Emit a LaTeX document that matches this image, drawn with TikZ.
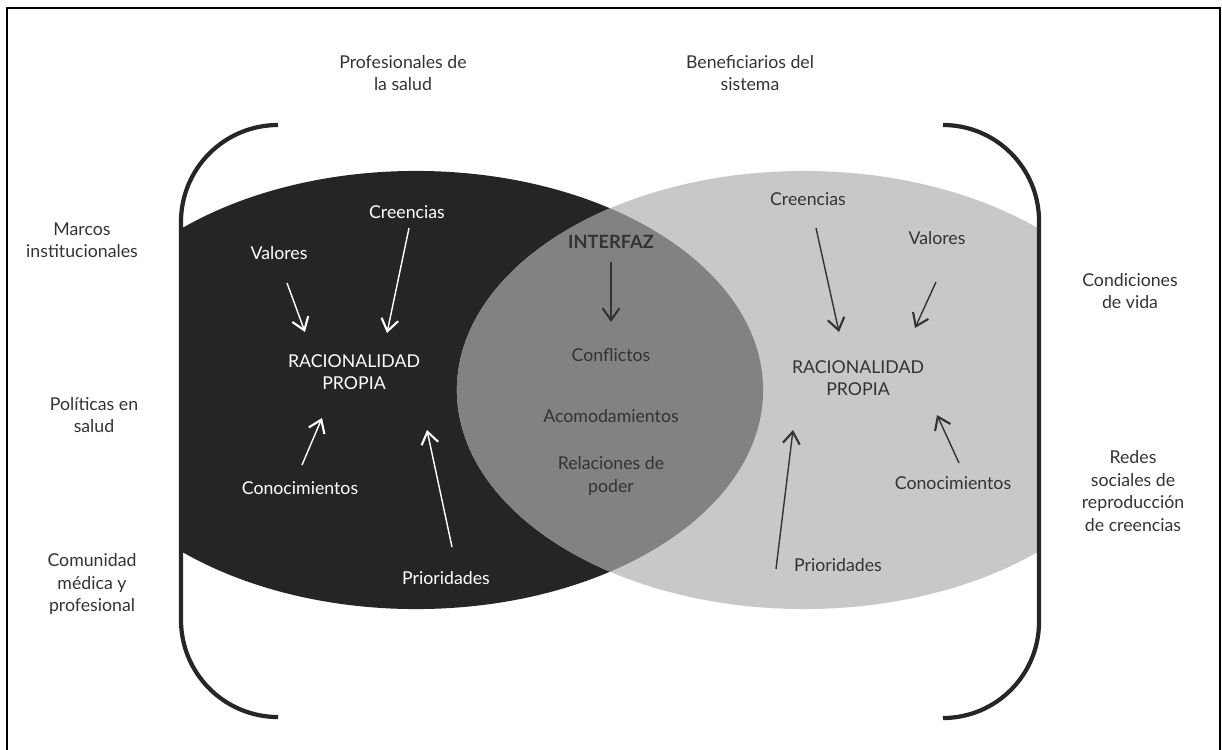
\documentclass[tikz,border=0pt]{standalone}
\usepackage{fontspec}
\setmainfont{Lato}
\usetikzlibrary{arrows.meta}
\definecolor{darkfill}{HTML}{252525}
\definecolor{lightfill}{HTML}{C8C8C8}
\definecolor{lensfill}{HTML}{828282}
\definecolor{txt}{HTML}{333333}
\definecolor{brk}{HTML}{262626}
\begin{document}
\begin{tikzpicture}[x=0.025cm,y=-0.025cm,
  lbl/.style={font=\fontsize{12.6}{16}\selectfont, align=center, text=txt, inner sep=0pt},
  wlbl/.style={lbl, text=white},
  arr/.style={line width=1pt, draw=txt, -{Straight Barb[length=8.5pt,width=12pt,line width=1.5pt]}},
  warr/.style={arr, draw=white},
  bracket/.style={line width=3pt, draw=brk},
  frame/.style={line width=1.4pt, draw=black}]
\useasboundingbox (0,0) rectangle (1222,749);
% outer frame
\draw[frame] (7,760) -- (7,8) -- (1220,8) -- (1220,760);
% shapes
\begin{scope}
  \clip (183,0) rectangle (1222,749);
  \fill[darkfill] (416,390) ellipse [x radius=8.675cm, y radius=5.475cm];
\end{scope}
\begin{scope}
  \clip (0,0) rectangle (1037,749);
  \fill[lightfill] (804,390) ellipse [x radius=8.675cm, y radius=5.475cm];
\end{scope}
\begin{scope}
  \clip (416,390) ellipse [x radius=8.675cm, y radius=5.475cm];
  \fill[lensfill] (804,390) ellipse [x radius=8.675cm, y radius=5.475cm];
\end{scope}
% brackets
\draw[bracket] (278,125) arc[start angle=90, end angle=180, radius=2.425cm] -- (181,620) arc[start angle=180, end angle=270, radius=2.425cm];
\draw[bracket] (943,125) arc[start angle=90, end angle=0, radius=2.4cm] -- (1039,622) arc[start angle=0, end angle=-90, radius=2.4cm];
% outer labels
\node[lbl] (prof) at (403,73) {Profesionales de\\la salud};
\node[lbl] (benef) at (750,73) {Beneficiarios del\\sistema};
\node[lbl] (marcos) at (82,240) {Marcos\\institucionales};
\node[lbl] (politicas) at (94,415) {Políticas en\\salud};
\node[lbl] (comunidad) at (92,584) {Comunidad\\médica y\\profesional};
\node[lbl] (condiciones) at (1130,291) {Condiciones\\de vida};
\node[lbl] (redes) at (1133,491) {Redes\\sociales de\\reproducción\\de creencias};
% left (dark) labels
\node[wlbl] (valL) at (279,253) {Valores};
\node[wlbl] (creL) at (407,212) {Creencias};
\node[wlbl] (racL) at (354,372) {RACIONALIDAD\\PROPIA};
\node[wlbl] (conL) at (300,488) {Conocimientos};
\node[wlbl] (priL) at (446,578) {Prioridades};
% lens labels
\node[lbl, font=\fontsize{13}{16}\selectfont\bfseries] (interfaz) at (611,242) {INTERFAZ};
\node[lbl] (conflictos) at (611,355) {Conflictos};
\node[lbl] (acomod) at (611,416) {Acomodamientos};
\node[lbl] (relaciones) at (611,476) {Relaciones de\\poder};
% right (light) labels
\node[lbl] (creR) at (808,199) {Creencias};
\node[lbl] (valR) at (937,238) {Valores};
\node[lbl] (racR) at (858,378) {RACIONALIDAD\\PROPIA};
\node[lbl] (conR) at (953,483) {Conocimientos};
\node[lbl] (priR) at (838,565) {Prioridades};
% arrow end points
\coordinate (valLs) at (287,283); \coordinate (valLe) at (305,332);
\coordinate (creLs) at (409,228); \coordinate (creLe) at (387,333);
\coordinate (conLs) at (302,465); \coordinate (conLe) at (322,418);
\coordinate (priLs) at (452,547); \coordinate (priLe) at (427,430);
\coordinate (intS) at (611,262); \coordinate (intE) at (611,322);
\coordinate (creRs) at (816,228); \coordinate (creRe) at (839,332);
\coordinate (valRs) at (936,282); \coordinate (valRe) at (915,328);
\coordinate (conRs) at (959,463); \coordinate (conRe) at (937,415);
\coordinate (priRs) at (776,569); \coordinate (priRe) at (793,430);
% arrows
\draw[warr] (valLs) -- (valLe);
\draw[warr] (creLs) -- (creLe);
\draw[warr] (conLs) -- (conLe);
\draw[warr] (priLs) -- (priLe);
\draw[arr] (intS) -- (intE);
\draw[arr] (creRs) -- (creRe);
\draw[arr] (valRs) -- (valRe);
\draw[arr] (conRs) -- (conRe);
\draw[arr] (priRs) -- (priRe);
\end{tikzpicture}
\end{document}
